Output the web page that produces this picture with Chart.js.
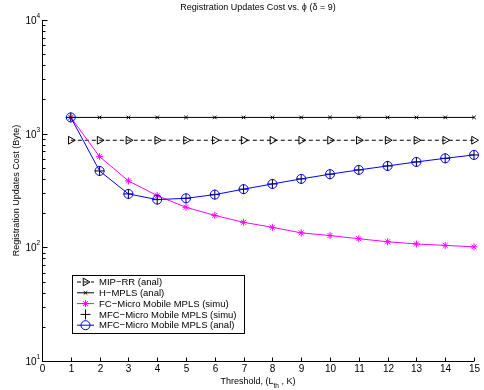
<!DOCTYPE html>
<html><head><meta charset="utf-8">
<script src="https://cdn.jsdelivr.net/npm/chart.js@4/dist/chart.umd.min.js"></script>
<style>html,body{margin:0;padding:0;background:#fff}#wrap{width:484px;height:390px;position:relative}</style>
</head><body><div id="wrap"><canvas id="c" width="484" height="390"></canvas></div>
<script>
// ---- data ----
const thresholds = [1,2,3,4,5,6,7,8,9,10,11,12,13,14,15];
const xTicks = [0,1,2,3,4,5,6,7,8,9,10,11,12,13,14,15];
const yDecades = [10,100,1000,10000];
const yExponents = ['1','2','3','4'];
const mipRR  = [875,875,875,875,875,875,875,875,875,875,875,875,875,875,875];
const hMPLS  = [1390,1390,1390,1390,1390,1390,1390,1390,1390,1390,1390,1390,1390,1390,1390];
const fcSimu = [1390,628,384,285,225,191,166,150,134,127,119,112,107,104,101];
const mfcSimu= [1390,470,295,263,270,291,325,361,400,440,480,520,564,607,650];
const mfcAnal= [1390,470,295,263,270,291,325,361,400,440,480,520,564,607,650];
const titleText = 'Registration Updates Cost vs. \u03D5 (\u03B4 = 9)';
const yTitle = 'Registration Updates Cost (Byte)';
const legendNames = ['MIP\u2212RR (anal)','H\u2212MPLS (anal)','FC\u2212Micro Mobile MPLS (simu)','MFC\u2212Micro Mobile MPLS (simu)','MFC\u2212Micro Mobile MPLS (anal)'];

const FONT = '"Liberation Sans", Arial, Helvetica, sans-serif';
const pts = arr => thresholds.map((x,i)=>({x:x, y:arr[i]}));

const datasets = [
  {label:legendNames[4], data:pts(mfcAnal), borderColor:'#0000ff', borderWidth:1, pointStyle:'circle', pointRadius:4.5, pointBorderWidth:1, pointBorderColor:'#0000ff', pointBackgroundColor:'rgba(0,0,0,0)', showLine:true},
  {label:legendNames[3], data:pts(mfcSimu), borderColor:'#000000', borderWidth:1, pointStyle:'cross', pointRadius:5, pointBorderWidth:1, pointBorderColor:'#000', showLine:false},
  {label:legendNames[2], data:pts(fcSimu), borderColor:'#ff00ff', borderWidth:1, pointStyle:'star', pointRadius:3.5, pointBorderWidth:1, pointBorderColor:'#ff00ff', showLine:true},
  {label:legendNames[1], data:pts(hMPLS), borderColor:'#000000', borderWidth:1, pointStyle:'crossRot', pointRadius:2.5, pointBorderWidth:1, pointBorderColor:'#000', showLine:true},
  {label:legendNames[0], data:pts(mipRR), borderColor:'#000000', borderWidth:1, borderDash:[4,3], pointStyle:'triangle', rotation:90, pointRadius:4.5, pointBorderWidth:1, pointBorderColor:'#000', pointBackgroundColor:'rgba(0,0,0,0)', showLine:true}
];
datasets.forEach(d=>{d.fill=false; d.tension=0; d.clip=false; d.backgroundColor='rgba(0,0,0,0)';});

const legendOrder = [4,3,2,1,0];

const decor = {
  id:'decor',
  afterDraw(chart){
    const ctx = chart.ctx, xs = chart.scales.x, ys = chart.scales.y, ca = chart.chartArea;
    ctx.save();
    ctx.strokeStyle = '#000'; ctx.lineWidth = 1; ctx.setLineDash([]);
    // axes lines
    const L = Math.round(ca.left)+0.5, B = Math.round(ca.bottom)+0.5;
    ctx.beginPath(); ctx.moveTo(L, ca.top); ctx.lineTo(L, B); ctx.lineTo(ca.right, B); ctx.stroke();
    // x ticks
    ctx.fillStyle = '#000';
    ctx.font = '10px ' + FONT; ctx.textAlign = 'center'; ctx.textBaseline = 'top';
    xTicks.forEach(v=>{
      const px = Math.round(xs.getPixelForValue(v))+0.5;
      ctx.beginPath(); ctx.moveTo(px, B); ctx.lineTo(px, B-4); ctx.stroke();
      ctx.fillText(String(v), px, B+3);
    });
    // y ticks
    yDecades.forEach((d,i)=>{
      const py = Math.round(ys.getPixelForValue(d))+0.5;
      ctx.beginPath(); ctx.moveTo(L, py); ctx.lineTo(L+5, py); ctx.stroke();
      if (i < yDecades.length-1) {
        for (let m=2;m<=9;m++){
          const qy = Math.round(ys.getPixelForValue(d*m))+0.5;
          ctx.beginPath(); ctx.moveTo(L, qy); ctx.lineTo(L+3, qy); ctx.stroke();
        }
      }
      ctx.font = '10px ' + FONT; ctx.textAlign='right'; ctx.textBaseline='middle';
      ctx.fillText('10', L-6, py+1);
      ctx.font = '6.5px ' + FONT; ctx.textAlign='left'; ctx.textBaseline='middle';
      ctx.fillText(yExponents[i], L-6, py-4);
    });
    // title
    ctx.font = '9px ' + FONT; ctx.textAlign='center'; ctx.textBaseline='middle';
    ctx.fillText(titleText, (ca.left+ca.right)/2, 8);
    // x title with subscript
    const cx = (ca.left+ca.right)/2, ty = 382;
    const p1 = 'Threshold, (L', sub = 'th', p2 = ' , K)';
    ctx.font = '9px ' + FONT; const w1 = ctx.measureText(p1).width, w3 = ctx.measureText(p2).width;
    ctx.font = '6.5px ' + FONT; const w2 = ctx.measureText(sub).width;
    let sx = cx - (w1+w2+w3)/2;
    ctx.textAlign='left';
    ctx.font = '9px ' + FONT; ctx.fillText(p1, sx, ty);
    ctx.font = '6.5px ' + FONT; ctx.fillText(sub, sx+w1, ty+4);
    ctx.font = '9px ' + FONT; ctx.fillText(p2, sx+w1+w2, ty);
    // y title
    ctx.save(); ctx.translate(17, (ca.top+ca.bottom)/2); ctx.rotate(-Math.PI/2);
    ctx.font = '9px ' + FONT; ctx.textAlign='center'; ctx.textBaseline='middle';
    ctx.fillText(yTitle, 0, 0); ctx.restore();
    // legend
    const lx = 72.5, ly = 275.5, lw = 172, lh = 58;
    ctx.fillStyle = '#fff'; ctx.fillRect(lx, ly, lw, lh);
    ctx.strokeStyle = '#000'; ctx.lineWidth = 1; ctx.strokeRect(lx, ly, lw, lh);
    legendOrder.forEach((di,row)=>{
      const ds = chart.data.datasets[di];
      const y = 282 + row*10.8;
      ctx.strokeStyle = ds.borderColor; ctx.lineWidth = 1;
      if (ds.showLine) {
        ctx.setLineDash(ds.borderDash || []);
        ctx.beginPath(); ctx.moveTo(77, y); ctx.lineTo(94, y); ctx.stroke();
        ctx.setLineDash([]);
      }
      ctx.strokeStyle = ds.pointBorderColor; ctx.fillStyle = 'rgba(0,0,0,0)';
      Chart.helpers.drawPoint(ctx, {pointStyle: ds.pointStyle, rotation: ds.rotation||0, radius: ds.pointRadius, borderWidth:1}, 85.5, y);
      ctx.fillStyle = '#000'; ctx.font = '9.5px ' + FONT; ctx.textAlign='left'; ctx.textBaseline='middle';
      ctx.fillText(ds.label, 99, y+0.5);
    });
    ctx.restore();
  }
};

new Chart(document.getElementById('c'), {
  type:'line',
  data:{datasets:datasets},
  options:{
    responsive:false, animation:false, devicePixelRatio:1,
    layout:{padding:{left:42, top:20, right:10, bottom:29}},
    plugins:{legend:{display:false}, tooltip:{enabled:false}, title:{display:false}},
    scales:{
      x:{type:'linear', min:0, max:15, display:false},
      y:{type:'logarithmic', min:10, max:10000, display:false}
    }
  },
  plugins:[decor]
});
</script>
</body></html>
